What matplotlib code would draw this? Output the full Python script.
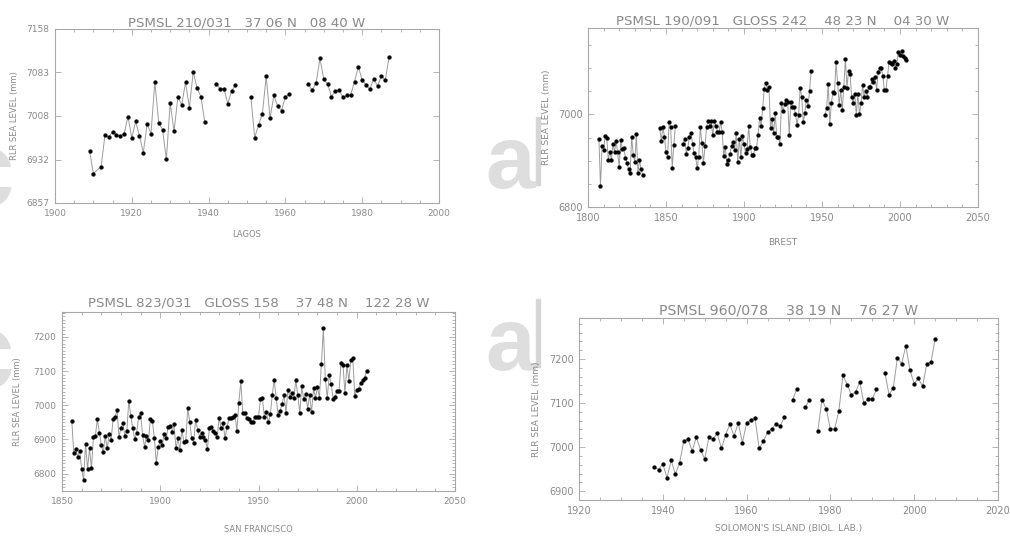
import numpy as np
import matplotlib
matplotlib.use('Agg')
import matplotlib.pyplot as plt
from matplotlib.ticker import MultipleLocator, FixedLocator, NullLocator
from matplotlib.patches import Rectangle

nan = np.nan

# ---- Lagos (PSMSL 210/031) annual RLR means, mm
lagos_years = [1909, 1910] + list(range(1912, 1941)) + list(range(1942, 1949)) \
    + list(range(1951, 1963)) + list(range(1966, 1988))
lagos_mm = [6947, 6908,
            6920, 6974, 6971, 6980, 6974, 6973, 6977, 7006, 6970, 6998,
            6973, 6944, 6994, 6977, 7067, 6996, 6984, 6933, 7030, 6981,
            7040, 7027, 7066, 7022, 7084, 7056, 7041, 6997, nan,
            7063, 7054, 7055, 7029, 7051, 7061, nan,
            7041, 6970, 6992, 7011, 7076, 7004, 7043, 7024, 7017, 7041, 7045, nan,
            7062, 7052, 7065, 7107, 7071, 7063, 7041, 7051, 7052, 7040, 7043,
            7044, 7067, 7093, 7069, 7061, 7054, 7072, 7059, 7077, 7069, 7110]
lagos_yticks = [6857, 6932.25, 7007.5, 7082.75, 7158]
lagos_ylabels = ['6857', '6932', '7008', '7083', '7158']

# ---- Brest (PSMSL 190/091)
brest_years = list(range(1807, 1837)) + list(range(1846, 1858)) \
    + list(range(1861, 1945)) + list(range(1952, 2005))
brest_mm = [6947, 6845, 6932, 6924, 6954, 6950, 6902, 6919, 6902, 6936,
            6919, 6942, 6918, 6886, 6945, 6925, 6927, 6907, 6896, 6882,
            6873, 6952, 6913, 6898, 6957, 6873, 6902, 6882, 6870, nan,
            6970, 6943, 6974, 6952, 6919, 6908, 6984, 6972, 6885, 6933, 6976, nan,
            6937, 6948, 6915, 6928, 6952, 6961, 6937, 6916, 6908, 6885,
            6908, 6973, 6938, 6895, 6931, 6973, 6986, 6976, 6986, 6955,
            6986, 6976, 6962, 6962, 6984, 6962, 6910, 6930, 6892, 6901,
            6915, 6932, 6940, 6923, 6959, 6897, 6948, 6908, 6953, 6937,
            6916, 6926, 6975, 6930, 6912, 6913, 6927, 6927, 6955, 6993,
            6975, 7015, 7056, 7069, 7054, 7060, 6971, 6991, 6959, 7004,
            6952, 6952, 6936, 7025, 7007, 7022, 7031, 7028, 6955, 7028,
            7017, 7017, 7000, 6978, 6999, 7058, 7037, 6983, 7004, 7032,
            7018, 7050, 7093, nan,
            6999, 7015, 7067, 6979, 7025, 7048, 7047, 7113, 7069, 7021,
            7053, 7010, 7060, 7120, 7058, 7095, 7087, 7038, 7024, 7045,
            6999, 7045, 7000, 7024, 7064, 7038, 7050, 7038, 7060, 7060,
            7076, 7071, 7080, 7054, 7092, 7100, 7100, 7083, 7053, 7054,
            7083, 7113, 7112, 7109, 7116, 7101, 7110, 7136, 7129, 7138,
            7126, 7123, 7118]

# ---- San Francisco (PSMSL 823/031)
sf_years = list(range(1855, 2006))
sf_mm = [6953, 6859, 6871, 6849, 6867, 6813, 6782, 6888, 6813, 6874,
         6815, 6908, 6911, 6959, 6920, 6883, 6862, 6910, 6874, 6916,
         6898, 6959, 6965, 6986, 6908, 6932, 6949, 6910, 6925, 7013,
         6969, 6932, 6901, 6920, 6965, 6976, 6913, 6878, 6910, 6898,
         6959, 6954, 6903, 6832, 6878, 6895, 6883, 6916, 6903, 6935,
         6940, 6921, 6944, 6874, 6903, 6869, 6929, 6893, 6896, 6991,
         6952, 6903, 6890, 6957, 6929, 6908, 6920, 6908, 6898, 6872,
         6932, 6937, 6925, 6920, 6908, 6964, 6932, 6947, 6903, 6937,
         6962, 6964, 6967, 6972, 6925, 7008, 7070,
         6976, 6978, 6962, 6960, 6952, 6950, 6965, 6966, 6967, 7017,
         7020, 6965, 6980, 6950, 6973, 7030, 7075, 7020, 6972, 6983,
         7005, 7030, 6978, 7045, 7025, 7035, 7022, 7073, 7030, 6978,
         7055, 7018, 7032, 6990, 7030, 6980, 7050, 7022, 7052, 7022,
         7120, 7225, 7078, 7022, 7088, 7062, 7018, 7025, 7042, 7042,
         7125, 7118, 7035, 7118, 7072, 7133, 7137, 7027, 7045, 7048,
         7065, 7075, 7080, 7100]

# ---- Solomon's Island (PSMSL 960/078)
sol_years = list(range(1938, 2006))
sol_mm = [6955, 6949, 6962, 6930, 6970, 6939, 6964, 7013, 7019, 6991,
          7022, 6994, 6973, 7022, 7019, 7031, 6997, 7028, 7052, 7025,
          7055, 7010, 7055, 7062, 7065, 6997, 7013, 7034, 7041, 7053,
          7047, 7068, nan, 7108, 7132, nan, 7090, 7108, nan,
          7037, 7108, 7087, 7041, 7041, 7081, 7163, 7142, 7119, 7125,
          7148, 7099, 7109, 7109, 7131, nan,
          7169, 7119, 7134, 7203, 7189, 7230, 7174, 7144, 7156, 7138,
          7189, 7193, 7245]

W, H = 1010, 539
AXC = '#a8a8a8'
TXT = '#8a8a8a'
LINE = '#9c9c9c'

fig = plt.figure(figsize=(W / 100, H / 100), dpi=100)
fig.patch.set_facecolor('white')


def px_rect(l, t, r, b):
    return [l / W, 1 - b / H, (r - l) / W, (b - t) / H]


def panel(box, years, mm, xlim, ylim, xmaj, xmin, ymaj, ymin, title, name,
          title_y, name_y, ylab_x, tfs=9.6, lfs=6.5):
    ax = fig.add_axes(px_rect(*box))
    ax.set_facecolor('none')
    ax.plot(years, mm, color=LINE, lw=0.7, marker='o', ms=2.7,
            mfc='black', mec='black', mew=0.3)
    ax.set_xlim(*xlim)
    ax.set_ylim(*ylim)
    ax.xaxis.set_major_locator(MultipleLocator(xmaj))
    ax.xaxis.set_minor_locator(MultipleLocator(xmin))
    if isinstance(ymaj, tuple):
        ax.yaxis.set_major_locator(FixedLocator(ymaj[0]))
        ax.set_yticklabels(ymaj[1])
    else:
        ax.yaxis.set_major_locator(MultipleLocator(ymaj))
    if ymin:
        ax.yaxis.set_minor_locator(MultipleLocator(ymin))
    else:
        ax.yaxis.set_minor_locator(NullLocator())
    for s in ax.spines.values():
        s.set_color(AXC)
        s.set_linewidth(0.8)
    ax.tick_params(which='both', direction='in', top=True, right=True,
                   color=AXC, width=0.6, labelcolor=TXT, labelsize=lfs, pad=4)
    ax.tick_params(which='major', length=4)
    ax.tick_params(which='minor', length=2)
    cx = (box[0] + box[2]) / 2
    cy = (box[1] + box[3]) / 2
    fig.text(cx / W, 1 - title_y / H, title, ha='center', va='center',
             fontsize=tfs, color=TXT)
    fig.text(cx / W, 1 - name_y / H, name, ha='center', va='center',
             fontsize=lfs - 0.5, color=TXT)
    fig.text(ylab_x / W, 1 - cy / H, 'RLR SEA LEVEL (mm)', rotation=90,
             ha='center', va='center', fontsize=lfs - 0.5, color=TXT)
    return ax


# faint watermark letters behind the plots
for dy in (0, 182):
    fig.text(-47 / W, 1 - (207 + dy) / H, 'c', fontsize=80, color='#dedede',
             fontweight='bold', family='Liberation Sans', ha='left',
             va='baseline', zorder=0)
    fig.text(485 / W, 1 - (188 + dy) / H, 'a', fontsize=64, color='#dedede',
             fontweight='bold', family='Liberation Sans', ha='left',
             va='baseline', zorder=0)
    fig.patches.append(Rectangle((536 / W, 1 - (185 + dy) / H), 4 / W, 68 / H,
                                 transform=fig.transFigure, color='#d6d6d6',
                                 zorder=0))

panel((55, 29, 439, 203), lagos_years, lagos_mm, (1900, 2000), (6857, 7158),
      20, 5, (lagos_yticks, lagos_ylabels), None,
      'PSMSL 210/031   37 06 N   08 40 W', 'LAGOS', 23, 235, 15, lfs=6.5)
panel((588, 28, 978, 207), brest_years, brest_mm, (1800, 2050), (6800, 7187),
      50, 10, 200, 50,
      'PSMSL 190/091   GLOSS 242    48 23 N    04 30 W', 'BREST', 21, 242, 547,
      lfs=7)
panel((62, 312, 455, 491), sf_years, sf_mm, (1850, 2050), (6749, 7273),
      50, 10, 100, 10,
      'PSMSL 823/031   GLOSS 158    37 48 N    122 28 W', 'SAN FRANCISCO', 303,
      529, 18, lfs=6.5)
panel((579, 318, 998, 500), sol_years, sol_mm, (1920, 2020), (6880, 7293),
      20, 5, 100, 20,
      'PSMSL 960/078    38 19 N    76 27 W', "SOLOMON'S ISLAND (BIOL. LAB.)",
      311, 528, 536, tfs=10.2, lfs=7)

fig.savefig('out.png', dpi=100, facecolor='white')
